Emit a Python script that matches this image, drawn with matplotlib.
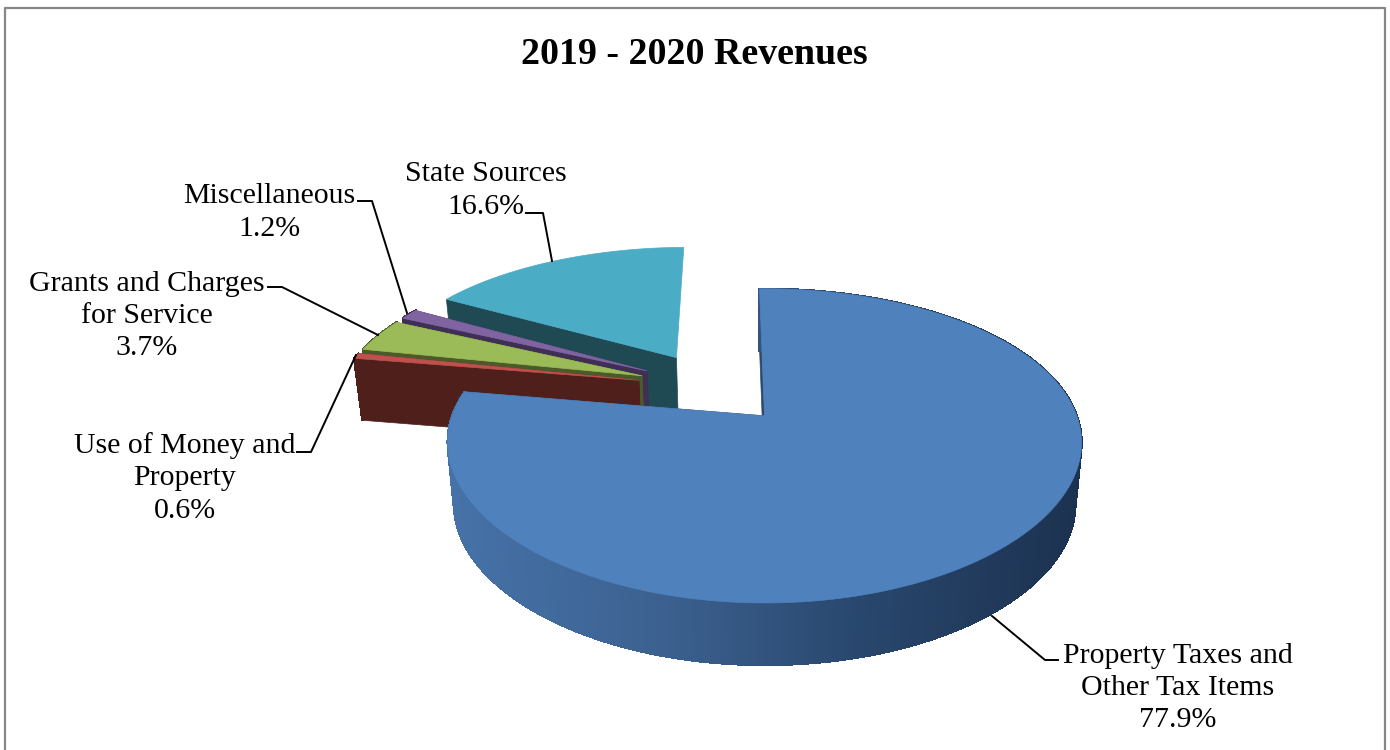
import numpy as np
import matplotlib
matplotlib.use('Agg')
import matplotlib.pyplot as plt
from matplotlib.collections import PolyCollection, LineCollection
from matplotlib.colors import LinearSegmentedColormap

categories = ['Property Taxes and\nOther Tax Items', 'Use of Money and\nProperty',
              'Grants and Charges\nfor Service', 'Miscellaneous', 'State Sources']
values = [77.9, 0.6, 3.7, 1.2, 16.6]
explode = [0.265, 0.25, 0.25, 0.25, 0.25]
top_colors = ['#4f81bd', '#c0504d', '#9bbb59', '#8064a2', '#4bacc6']
side_colors = ['#2a4a70', '#4f1f1c', '#4a5a28', '#3f2f55', '#1f4a54']
start_angle = 91.0
title = '2019 - 2020 Revenues'

# label centre and leader line for each slice, pixels
label_pos = [(1178, 688), (185, 478), (147, 316), (269, 212.5), (486, 190.5)]
leaders = [[(1058, 660), (1045, 660), (992, 616)],
           [(297, 452), (311, 452), (356, 355)],
           [(268, 287), (282, 287), (378, 335)],
           [(358, 201), (372, 201), (407, 313)],
           [(526, 213), (543, 213), (552, 261)]]

# tilted view of the pie plane (fitted to the picture)
KX, KY = 0.17, 0.191
SX, SY = 312.0, 151.0
OX, OY = 762.0, 415.0
CENTRE = np.array([-0.165, 0.195])
DEPTH = 62.0
BOTTOM_X = 0.98
rim_cmap = LinearSegmentedColormap.from_list('rim', ['#4672a8', '#3c6190', '#28466c', '#1c3250'])


def project(x, y):
    x = np.asarray(x) + 0.0
    y = np.asarray(y) + 0.0
    return OX + SX * x / (1 + KX * y), OY - SY * y / (1 + KY * y)


def drop(px, py):
    return 765 + (px - 765) * BOTTOM_X, py + DEPTH


fig = plt.figure(figsize=(13.9, 7.5), dpi=100)
ax = fig.add_axes([0, 0, 1, 1])
ax.set_xlim(0, 1390)
ax.set_ylim(750, 0)
ax.axis('off')

# chart border
ax.plot([5, 5, 1385, 1385], [760, 8, 8, 760], color='#868686', lw=1.6, zorder=1)

# slice angles, clockwise from the start
ends = start_angle - np.cumsum(values) * 3.6
starts = np.r_[start_angle, ends[:-1]]

# back to front
for i in [4, 3, 2, 1, 0]:
    a = np.radians(np.linspace(starts[i], ends[i], max(int(values[i] * 7), 6)))
    mid = np.radians((starts[i] + ends[i]) / 2)
    ax0 = CENTRE[0] + explode[i] * np.cos(mid)
    ay0 = CENTRE[1] + explode[i] * np.sin(mid)
    tx, ty = project(ax0 + np.cos(a), ay0 + np.sin(a))
    bx, by = drop(tx, ty)
    apx, apy = project(ax0, ay0)
    abx, aby = drop(apx, apy)

    # cut faces, the back slice only shows its left one
    for j in ([0] if i == 4 else [0, -1]):
        ax.fill([apx, tx[j], bx[j], abx], [apy, ty[j], by[j], aby],
                color=side_colors[i], lw=0.5, zorder=2)

    # rim strips, the back slice's rim faces away
    if i != 4:
        polys = [[(tx[k], ty[k]), (tx[k + 1], ty[k + 1]), (bx[k + 1], by[k + 1]), (bx[k], by[k])]
                 for k in range(len(a) - 1)]
        if i == 0:
            cols = rim_cmap(np.clip((tx[:-1] - 450) / 630, 0, 1))
        else:
            cols = [side_colors[i]] * len(polys)
        ax.add_collection(PolyCollection(polys, facecolors=cols, edgecolors=cols, lw=1.0,
                                         antialiaseds=False, zorder=2))
        segs = [[(bx[k], by[k]), (bx[k + 1], by[k + 1])] for k in range(len(a) - 1)]
        ax.add_collection(LineCollection(segs, colors=cols, lw=1.0, zorder=2))

    # top surface
    ax.fill(np.r_[apx, tx], np.r_[apy, ty], color=top_colors[i], lw=0.5, zorder=2)

# labels and leaders
for i in range(len(values)):
    ax.text(label_pos[i][0], label_pos[i][1], f'{categories[i]}\n{values[i]:.1f}%',
            ha='center', va='center', ma='center', family='Liberation Serif',
            fontsize=21.5, linespacing=1.31, color='black', zorder=4)
    xs, ys = zip(*leaders[i])
    ax.plot(xs, ys, color='black', lw=1.4, zorder=3)

ax.text(694, 55, title, ha='center', va='center', family='Liberation Serif',
        fontsize=27.3, fontweight='bold', color='black', zorder=4)

fig.savefig('out.png', dpi=100)
